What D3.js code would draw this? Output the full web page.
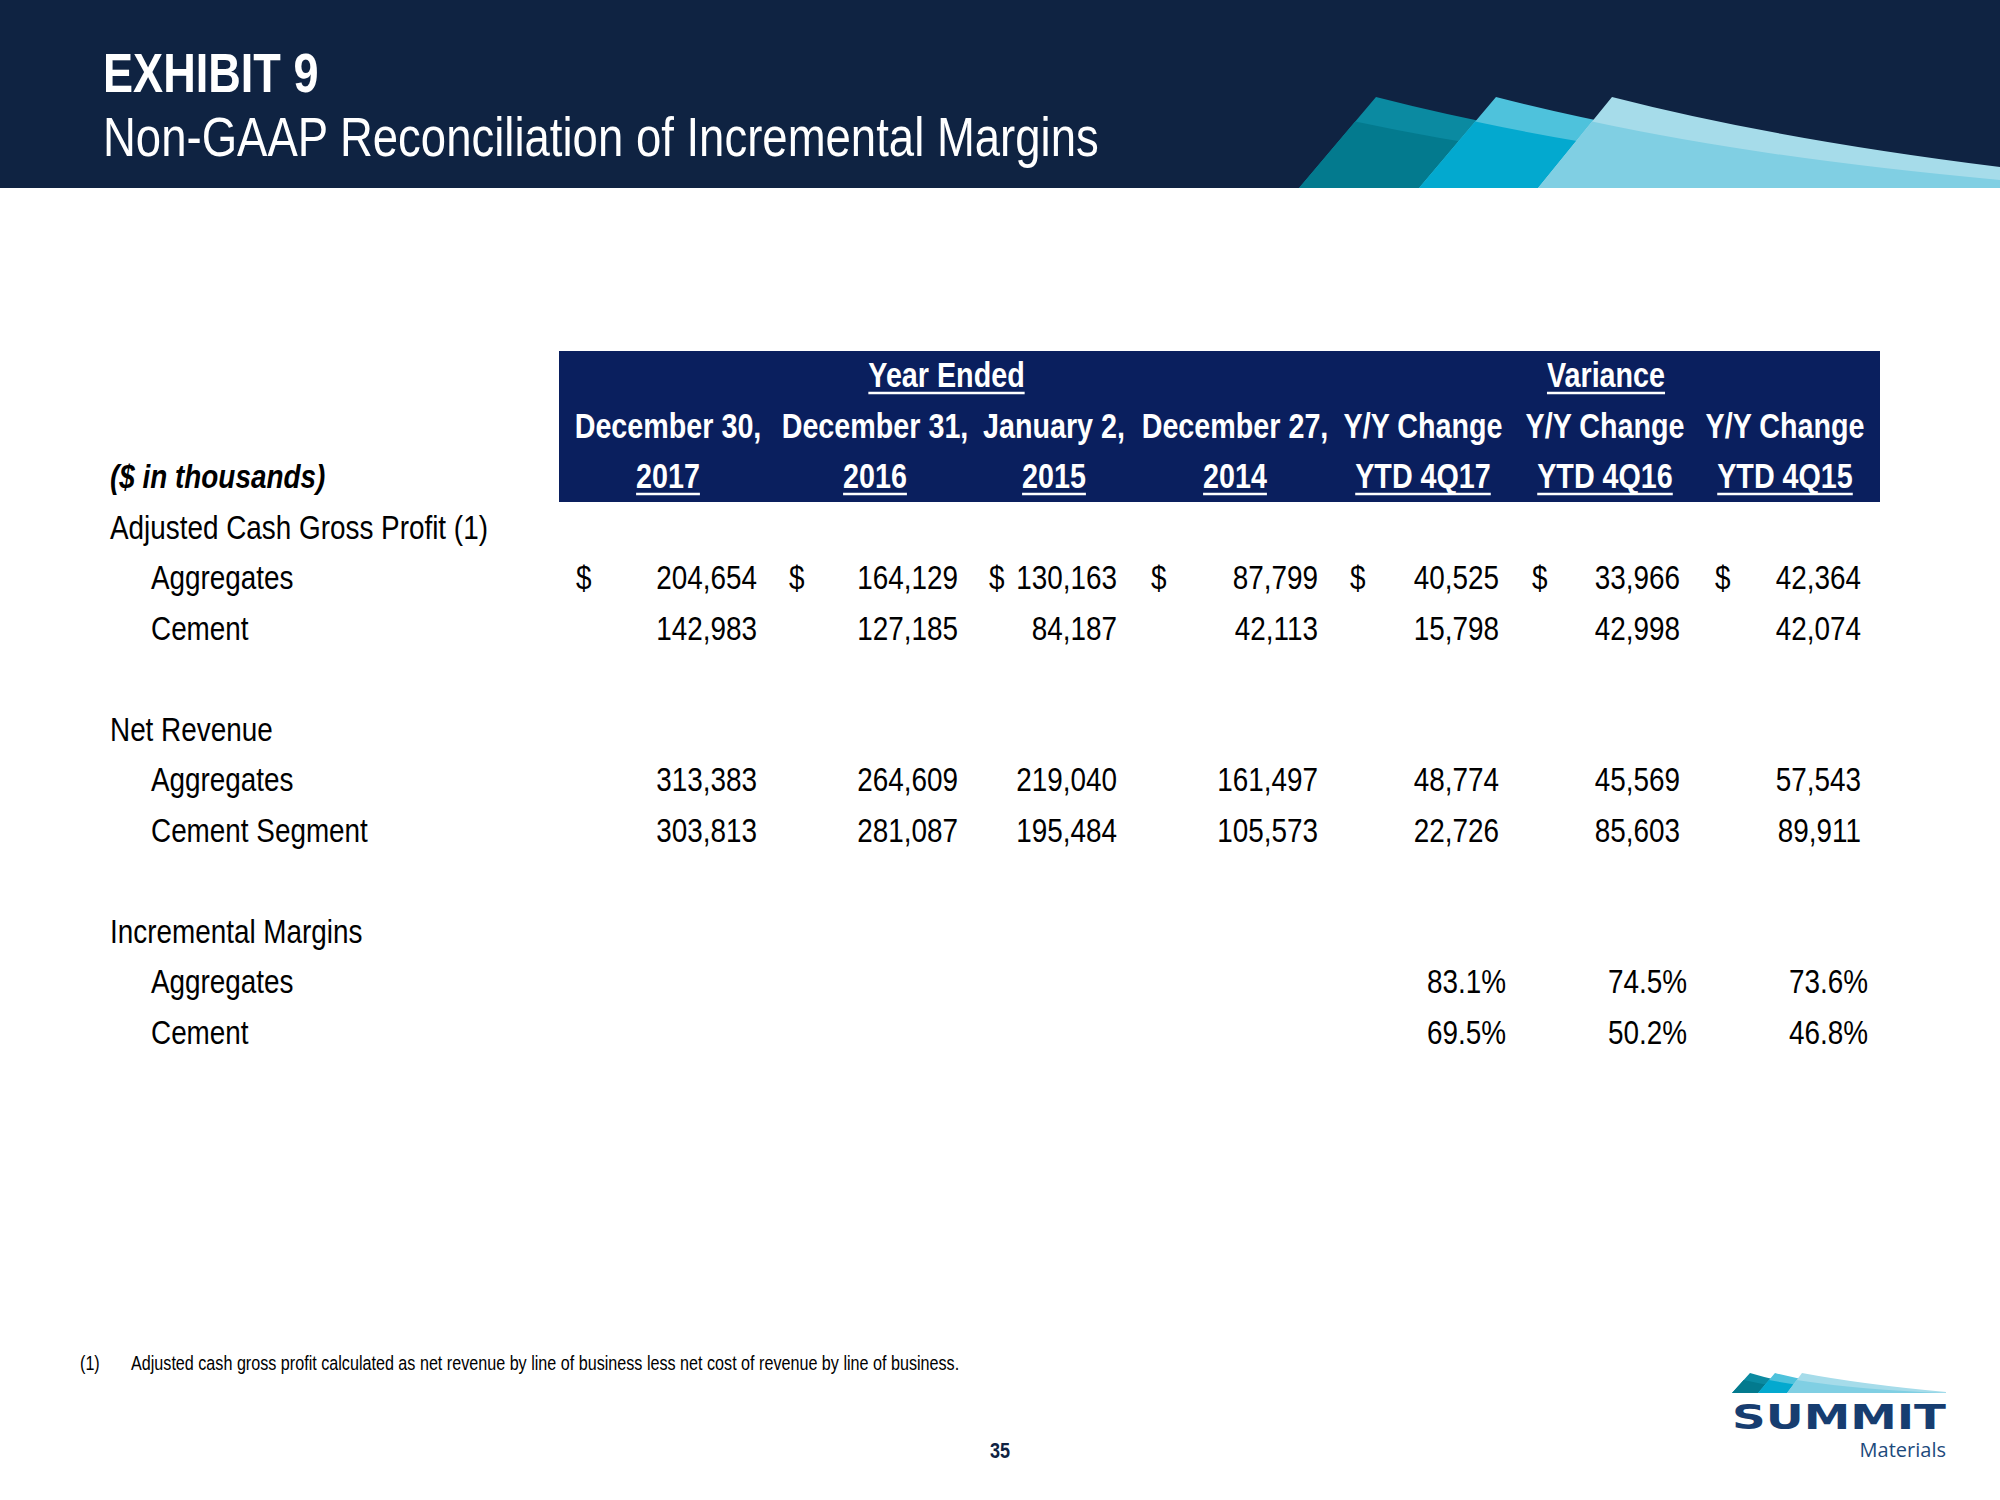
<!DOCTYPE html>
<html>
<head>
<meta charset="utf-8">
<script src="https://cdn.jsdelivr.net/npm/d3@7"></script>
<style>
  html, body { margin: 0; padding: 0; background: #ffffff; }
  svg { display: block; }
</style>
</head>
<body>
<script>
// ---------------- DATA ----------------
const groupHeaders = ["Year Ended", "Variance"];
const headerLine1 = ["December 30,", "December 31,", "January 2,", "December 27,", "Y/Y Change", "Y/Y Change", "Y/Y Change"];
const headerLine2 = ["2017", "2016", "2015", "2014", "YTD 4Q17", "YTD 4Q16", "YTD 4Q15"];
const unitsLabel = "($ in thousands)";
const sectionLabels = ["Adjusted Cash Gross Profit (1)", "Net Revenue", "Incremental Margins"];
const itemLabels = ["Aggregates", "Cement", "Aggregates", "Cement Segment", "Aggregates", "Cement"];

const cgpAggregates = [204654, 164129, 130163, 87799, 40525, 33966, 42364];
const cgpCement     = [142983, 127185, 84187, 42113, 15798, 42998, 42074];
const revAggregates = [313383, 264609, 219040, 161497, 48774, 45569, 57543];
const revCement     = [303813, 281087, 195484, 105573, 22726, 85603, 89911];
const marginAggregates = [null, null, null, null, 83.1, 74.5, 73.6];
const marginCement     = [null, null, null, null, 69.5, 50.2, 46.8];

const footnoteMark = "(1)";
const footnoteText = "Adjusted cash gross profit calculated as net revenue by line of business less net cost of revenue by line of business.";
const pageNumber = "35";
const titleLine1 = "EXHIBIT 9";
const titleLine2 = "Non-GAAP Reconciliation of Incremental Margins";

// ---------------- LAYOUT ----------------
const W = 2000, H = 1500;
const FONT = "'Liberation Sans',Arial,sans-serif";
const SX = 0.82; // condensed (Arial Narrow look)
const NAVY_TOP = "#0f2342";
const NAVY_HEAD = "#0a1f5e";

const cols = d3.range(7);
const xHead   = d3.scaleOrdinal().domain(cols).range([668, 875, 1054, 1235, 1423, 1605, 1785]);
const xNum    = d3.scaleOrdinal().domain(cols).range([757, 958, 1117, 1318, 1499, 1680, 1861]);
const xDollar = d3.scaleOrdinal().domain(cols).range([576, 789, 989, 1151, 1350, 1532, 1715]);
const xPct    = d3.scaleOrdinal().domain(cols).range([0, 0, 0, 0, 1506, 1687, 1868]);
const yRow = d3.scaleLinear().domain([0, 13]).range([387, 1043.5]);

const svg = d3.select("body").append("svg").attr("width", W).attr("height", H);
svg.append("rect").attr("width", W).attr("height", H).attr("fill", "#ffffff");

// condensed text helper
function ntext(parent, x, y, str, o) {
  o = o || {};
  const g = parent.append("g").attr("transform", `translate(${x},${y}) scale(${o.sx || SX},1)`);
  const t = g.append("text").attr("x", 0).attr("y", 0)
    .attr("font-family", o.family || FONT)
    .attr("font-size", o.size || 34)
    .attr("font-weight", o.bold ? "bold" : "normal")
    .attr("font-style", o.italic ? "italic" : "normal")
    .attr("text-anchor", o.anchor || "start")
    .attr("fill", o.fill || "#000000")
    .text(str);
  if (o.underline) {
    const w = t.node().getComputedTextLength();
    const a = o.anchor || "start";
    const x0 = a === "middle" ? -w / 2 : a === "end" ? -w : 0;
    g.append("line").attr("x1", x0).attr("x2", x0 + w)
      .attr("y1", 6).attr("y2", 6)
      .attr("stroke", o.fill || "#000").attr("stroke-width", 2.5);
  }
  return t;
}

// ---------------- TOP BAND ----------------
svg.append("rect").attr("x", 0).attr("y", 0).attr("width", W).attr("height", 188).attr("fill", NAVY_TOP);

function mountain(g, bx, by, px, py, ex, ey, light, dark, stripFrac, endStrip) {
  const cx = px + 0.42 * (ex - px), cy = py + 0.6 * (ey - py);
  const outer = d3.path();
  outer.moveTo(bx, by);
  outer.lineTo(px, py);
  outer.quadraticCurveTo(cx, cy, ex, ey);
  outer.lineTo(ex, by);
  outer.closePath();
  g.append("path").attr("d", outer.toString()).attr("fill", light);
  const ix = px + stripFrac * (bx - px), iy = py + stripFrac * (by - py);
  const inner = d3.path();
  inner.moveTo(bx, by);
  inner.lineTo(ix, iy);
  inner.quadraticCurveTo(cx - (px - ix) * 0.5, cy + (iy - py) * 0.8, ex, ey + endStrip);
  inner.lineTo(ex, by);
  inner.closePath();
  g.append("path").attr("d", inner.toString()).attr("fill", dark);
}

const deco = svg.append("g");
mountain(deco, 1299, 188, 1376, 97, 1764, 167, "#0b8aa1", "#037a8e", 0.27, 12);
mountain(deco, 1419, 188, 1496, 97, 1884, 167, "#4ec2dc", "#03a9cf", 0.27, 12);
mountain(deco, 1538, 188, 1612, 97, 2000, 167, "#a6dcea", "#80cfe3", 0.27, 13);

ntext(svg, 103, 92, titleLine1, {size: 55, bold: true, fill: "#ffffff"});
ntext(svg, 103, 156, titleLine2, {size: 55.5, fill: "#ffffff"});

// ---------------- TABLE HEADER ----------------
svg.append("rect").attr("x", 559).attr("y", 351).attr("width", 1321).attr("height", 151).attr("fill", NAVY_HEAD);

const head = svg.append("g");
const hOpt = u => ({size: 35, bold: true, fill: "#ffffff", anchor: "middle", underline: u});
ntext(head, (xHead(0) + xHead(3)) / 2 - 5, yRow(0), groupHeaders[0], hOpt(true));
ntext(head, xHead(5) + 1, yRow(0), groupHeaders[1], hOpt(true));
cols.forEach(i => {
  ntext(head, xHead(i), yRow(1), headerLine1[i], hOpt(false));
  ntext(head, xHead(i), yRow(2), headerLine2[i], hOpt(true));
});

// ---------------- ROW LABELS ----------------
const body = svg.append("g");
ntext(body, 110, yRow(2), unitsLabel, {bold: true, italic: true});

const sectionRows = [3, 7, 11];
sectionLabels.forEach((s, i) => ntext(body, 110, yRow(sectionRows[i]), s));
const itemRows = [4, 5, 8, 9, 12, 13];
itemLabels.forEach((s, i) => ntext(body, 151, yRow(itemRows[i]), s));

// ---------------- VALUES ----------------
const fmt = d3.format(",");
const numericRows = [
  {vals: cgpAggregates, row: 4, dollar: true},
  {vals: cgpCement, row: 5, dollar: false},
  {vals: revAggregates, row: 8, dollar: false},
  {vals: revCement, row: 9, dollar: false}
];
numericRows.forEach(r => {
  r.vals.forEach((v, i) => {
    ntext(body, xNum(i), yRow(r.row), fmt(v), {anchor: "end"});
    if (r.dollar) ntext(body, xDollar(i), yRow(r.row), "$");
  });
});

const pct = d => d3.format(".1f")(d) + "%";
[{vals: marginAggregates, row: 12}, {vals: marginCement, row: 13}].forEach(r => {
  r.vals.forEach((v, i) => {
    if (v !== null) ntext(body, xPct(i), yRow(r.row), pct(v), {anchor: "end"});
  });
});

// ---------------- FOOTNOTE & PAGE ----------------
ntext(svg, 80, 1370, footnoteMark, {size: 19.7});
ntext(svg, 131, 1370, footnoteText, {size: 19.7});
ntext(svg, 1000, 1458, pageNumber, {size: 22, bold: true, anchor: "middle", fill: "#0f2342"});

// ---------------- LOGO ----------------
const logo = svg.append("g");
mountain(logo, 1732, 1393, 1750, 1373, 1830, 1390, "#0b8aa1", "#037a8e", 0.35, 2);
mountain(logo, 1758, 1393, 1775, 1373, 1870, 1390, "#4ec2dc", "#03a9cf", 0.35, 2);
mountain(logo, 1787, 1393, 1802, 1373, 1946, 1392, "#a6dcea", "#80cfe3", 0.35, 1);
logo.append("text").attr("x", 1732).attr("y", 1429)
  .attr("font-family", "'DejaVu Sans',sans-serif").attr("font-weight", "bold").attr("font-size", 34)
  .attr("textLength", 214).attr("lengthAdjust", "spacingAndGlyphs")
  .attr("fill", "#173d70").text("SUMMIT");
logo.append("text").attr("x", 1946).attr("y", 1457).attr("text-anchor", "end")
  .attr("font-family", "'Open Sans',sans-serif").attr("font-size", 20)
  .attr("fill", "#1d4a7c").text("Materials");
</script>
</body>
</html>
